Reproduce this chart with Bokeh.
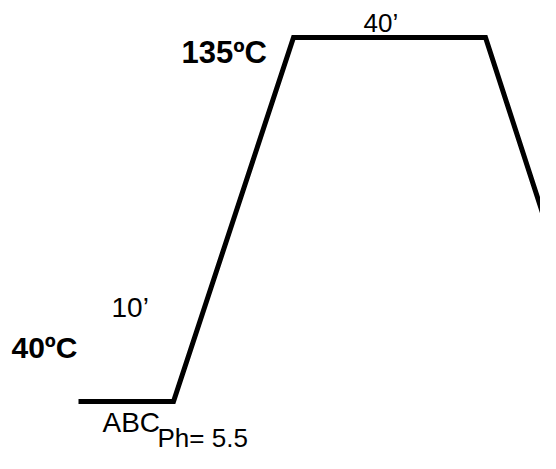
from bokeh.plotting import figure
from bokeh.models import Range1d
from bokeh.core.properties import value
from bokeh.embed import file_html
from bokeh.resources import INLINE

# Schematic temperature profile (x = schematic time position, y = temperature ºC)
stage_x = [78, 173, 293, 485, 556]
stage_temp = [40, 40, 135, 135, 78]

# Labels (x position, temperature position)
top_temp_label, top_temp_x, top_temp_y = "135ºC", 181, 131.1
low_temp_label, low_temp_x, low_temp_y = "40ºC", 11, 54.1

plain_labels = ["10’", "ABC"]
plain_x = [111, 102]
plain_y = [64.5, 34.6]

small_labels = ["Ph= 5.5", "40’"]
small_x = [157, 363]
small_y = [30.6, 138.9]

PX_PER_DEG = 364.0 / 95.0
y_top = 40 + 401 / PX_PER_DEG
y_bot = 40 - (453 - 401) / PX_PER_DEG

p = figure(width=540, height=453, output_backend="svg", toolbar_location=None,
           x_range=Range1d(0, 540), y_range=Range1d(y_bot, y_top),
           min_border=0, min_border_left=0, min_border_right=0,
           min_border_top=0, min_border_bottom=0)
p.axis.visible = False
p.xgrid.visible = False
p.ygrid.visible = False
p.outline_line_color = None
p.background_fill_color = "white"
p.border_fill_color = "white"

p.line(stage_x, stage_temp, line_color="black", line_width=5, line_join="miter")

font = value("Liberation Sans")
p.text([top_temp_x], [top_temp_y], text=[top_temp_label], text_font=font,
       text_font_style="bold", text_font_size="31px", text_color="black",
       text_align="left", text_baseline="alphabetic")
p.text([low_temp_x], [low_temp_y], text=[low_temp_label], text_font=font,
       text_font_style="bold", text_font_size="30px", text_color="black",
       text_align="left", text_baseline="alphabetic")
p.text(plain_x, plain_y, text=plain_labels, text_font=font,
       text_font_size="28px", text_color="black",
       text_align="left", text_baseline="alphabetic")
p.text(small_x, small_y, text=small_labels, text_font=font,
       text_font_size="26px", text_color="black",
       text_align="left", text_baseline="alphabetic")

open("out.html", "w").write(file_html(p, INLINE))
